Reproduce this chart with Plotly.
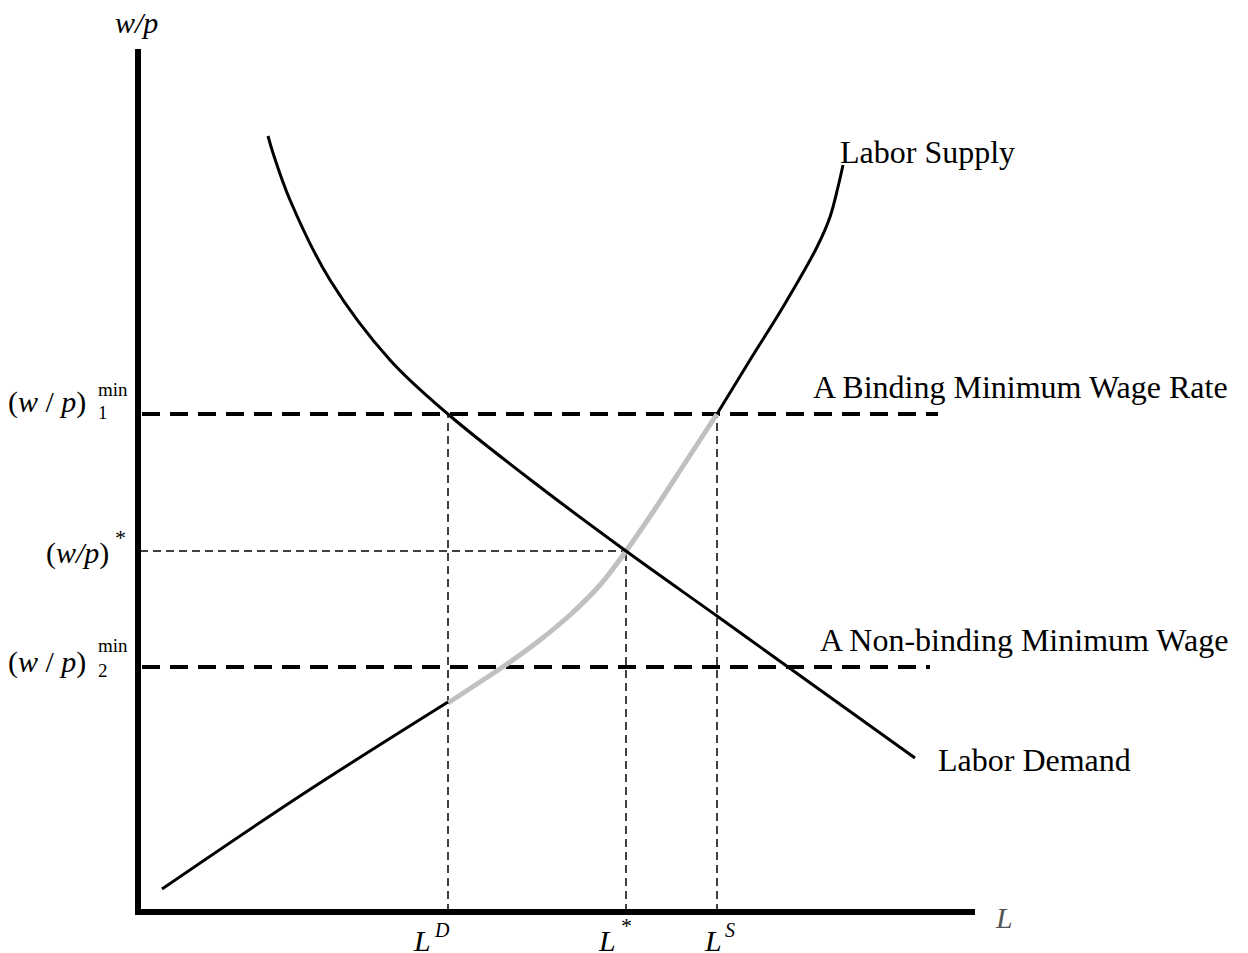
import plotly.graph_objects as go

# Coordinates: L = labour (horizontal units), W = real wage (vertical units), origin at axes corner
demand_L = [130, 135, 152, 192, 252, 311, 402, 488, 579, 650, 777]
demand_W = [776, 759, 712, 632, 552, 497, 425, 361, 296, 245, 154]

supply_low_L = [24, 165, 310]
supply_low_W = [23, 118, 210]
supply_mid_L = [310, 342, 372, 402, 432, 462, 488, 517, 547, 579]
supply_mid_W = [209, 230, 250, 272, 297, 327, 361, 403, 449, 498]
supply_high_L = [579, 612, 645, 679, 692, 700, 705]
supply_high_W = [498, 552, 605, 665, 695, 725, 747]

wage_min1 = 498
wage_star = 361
wage_min2 = 245
L_D = 310
L_star = 488
L_S = 579
binding_end = 800
nonbinding_end = 792
axis_top = 863
axis_right = 837

FONT = "Liberation Serif"
BLACK = "#000000"

fig = go.Figure()

def line(x, y, width=2.5, color=BLACK, dash=None, shape="linear"):
    fig.add_trace(go.Scatter(x=x, y=y, mode="lines", hoverinfo="skip",
                             line=dict(color=color, width=width, dash=dash, shape=shape,
                                       smoothing=1.0 if shape == "spline" else None),
                             showlegend=False))

# thin dashed guide lines
thin = "8px,5px"
line([2, L_star], [wage_star, wage_star], width=1.5, dash=thin)
line([L_D, L_D], [0, wage_min1], width=1.5, dash=thin)
line([L_star, L_star], [0, wage_star], width=1.5, dash=thin)
line([L_S, L_S], [0, wage_min1], width=1.5, dash=thin)

# thick dashed minimum wage lines
thick = "18px,10px"
line([4, binding_end], [wage_min1, wage_min1], width=4, dash=thick)
line([4, nonbinding_end], [wage_min2, wage_min2], width=4, dash=thick)

# curves
line(supply_mid_L, supply_mid_W, width=5, color="#c0c0c0", shape="spline")
line(supply_low_L, supply_low_W, width=3, shape="spline")
line(supply_high_L, supply_high_W, width=3, shape="spline")
line(demand_L, demand_W, width=3, shape="spline")

# axes
line([0, 0], [-2, axis_top], width=6)
line([-3, axis_right], [0, 0], width=6)

ann = []
def text(x, y, t, size=30, xanchor="left", color=BLACK):
    ann.append(dict(x=x, y=y, text=t, showarrow=False, xanchor=xanchor, yanchor="middle",
                    font=dict(family=FONT, size=size, color=color)))

text(-2, 890, "<i>w/p</i>", xanchor="center")
text(866, -5, "<i>L</i>", xanchor="center", color="#555555")

# wage labels
text(-50, 510, "(<i>w</i> / <i>p</i>)", xanchor="right")
text(-42, 523, "min", size=19)
text(-42, 500, "1", size=19)
text(-27, 359, "(<i>w/p</i>)", xanchor="right")
text(-25, 375, "*", size=22)
text(-50, 250, "(<i>w</i> / <i>p</i>)", xanchor="right")
text(-42, 267, "min", size=19)
text(-42, 242, "2", size=19)

# employment labels
text(L_D - 26, -28, "<i>L</i>", xanchor="center")
text(L_D - 16, -18, "<i>D</i>", size=20)
text(L_star - 19, -28, "<i>L</i>", xanchor="center")
text(L_star - 7, -13, "*", size=22)
text(L_S - 4, -28, "<i>L</i>", xanchor="center")
text(L_S + 6, -18, "<i>S</i>", size=20)

# curve / line labels
text(700, 760, "Labor Supply", size=32)
text(673, 525, "A Binding Minimum Wage Rate", size=32)
text(680, 272, "A Non-binding Minimum Wage", size=32)
text(798, 152, "Labor Demand", size=32)

# the page body adds an 8px offset, so the axis ranges compensate for it
fig.update_layout(
    width=1248, height=953,
    margin=dict(l=0, r=0, t=0, b=0),
    paper_bgcolor="white", plot_bgcolor="white",
    xaxis=dict(range=[-130, 1118], visible=False, fixedrange=True),
    yaxis=dict(range=[-49, 904], visible=False, fixedrange=True),
    annotations=ann,
)

fig.write_html("out.html")
